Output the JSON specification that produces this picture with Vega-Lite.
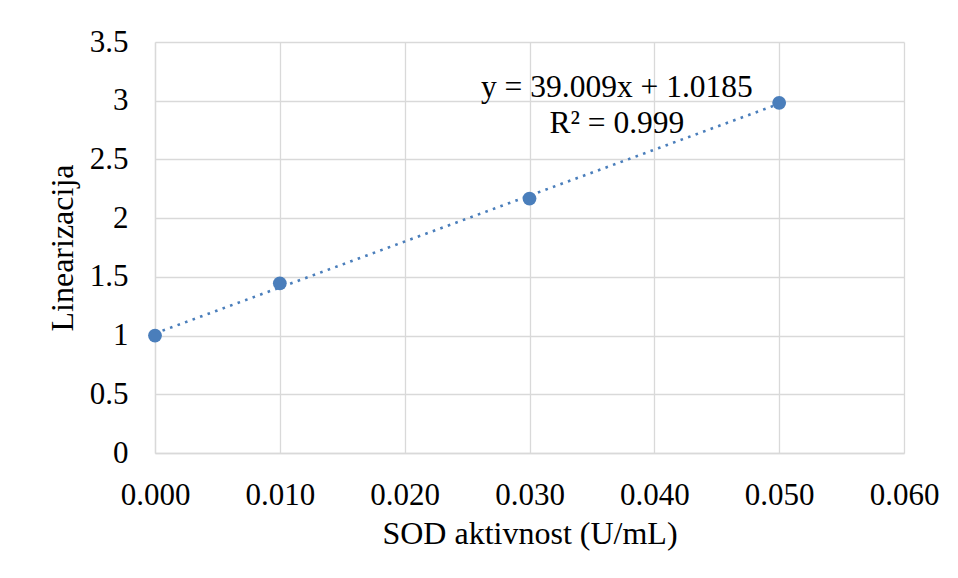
{
  "$schema": "https://vega.github.io/schema/vega-lite/v6.json",
  "width": 749,
  "height": 411,
  "autosize": "none",
  "padding": {"left": 155, "top": 42, "right": 54, "bottom": 125},
  "background": "white",
  "config": {
    "view": {"stroke": null},
    "font": "Liberation Serif",
    "axis": {
      "labelFont": "Liberation Serif",
      "titleFont": "Liberation Serif",
      "labelFontSize": 31,
      "titleFontSize": 32,
      "titleFontWeight": "normal",
      "labelColor": "#000000",
      "titleColor": "#000000",
      "gridColor": "#d9d9d9",
      "gridWidth": 1.3,
      "domainColor": "#d9d9d9",
      "domainWidth": 1.3,
      "ticks": false
    }
  },
  "datasets": {
    "points": [
      {"sod": 0.0, "lin": 1.0},
      {"sod": 0.01, "lin": 1.445},
      {"sod": 0.03, "lin": 2.167},
      {"sod": 0.05, "lin": 2.982}
    ],
    "note": [
      {"sod": 0.037, "lin": 3.11, "label": "y = 39.009x + 1.0185"},
      {"sod": 0.037, "lin": 2.8, "label": "R² = 0.999"}
    ]
  },
  "layer": [
    {
      "data": {"name": "points"},
      "transform": [{"regression": "lin", "on": "sod"}],
      "mark": {"type": "line", "color": "#4a7ebb", "strokeWidth": 2.6, "strokeDash": [2.6, 5.4], "strokeCap": "butt"},
      "encoding": {
        "x": {"field": "sod", "type": "quantitative"},
        "y": {"field": "lin", "type": "quantitative"}
      }
    },
    {
      "data": {"name": "points"},
      "mark": {"type": "circle", "color": "#4a7ebb", "opacity": 1, "size": 190},
      "encoding": {
        "x": {
          "field": "sod", "type": "quantitative",
          "scale": {"domain": [0, 0.06], "nice": false, "zero": false},
          "axis": {
            "title": "SOD aktivnost (U/mL)",
            "values": [0, 0.01, 0.02, 0.03, 0.04, 0.05, 0.06],
            "format": ".3f",
            "labelPadding": 27,
            "titlePadding": 8,
            "labelFlush": false
          }
        },
        "y": {
          "field": "lin", "type": "quantitative",
          "scale": {"domain": [0, 3.5], "nice": false},
          "axis": {
            "title": "Linearizacija",
            "values": [0, 0.5, 1, 1.5, 2, 2.5, 3, 3.5],
            "format": ".1~f",
            "labelPadding": 27,
            "titlePadding": 10,
            "labelFlush": false
          }
        }
      }
    },
    {
      "data": {"name": "note"},
      "mark": {"type": "text", "font": "Liberation Serif", "fontSize": 31.5, "color": "#000000", "align": "center", "baseline": "middle"},
      "encoding": {
        "x": {"field": "sod", "type": "quantitative"},
        "y": {"field": "lin", "type": "quantitative"},
        "text": {"field": "label"}
      }
    }
  ]
}
